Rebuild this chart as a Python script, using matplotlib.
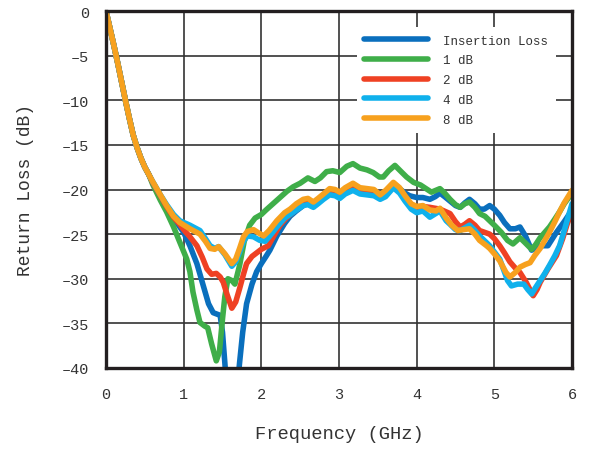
import matplotlib
matplotlib.use("Agg")
import matplotlib.pyplot as plt

plt.rcParams['font.family'] = ['Liberation Mono', 'DejaVu Sans']

# ---- data (GHz, dB) ----
f_start = [0, 0.05, 0.1, 0.15, 0.2, 0.25, 0.3, 0.35, 0.4, 0.45, 0.5, 0.55]
rl_start = [0, -1.9, -3.8, -5.8, -7.9, -10.0, -12.0, -13.9, -15.3, -16.5, -17.5, -18.3]

f_il = [0.6, 0.7, 0.78, 0.87, 0.95, 1.0, 1.08, 1.17, 1.27, 1.32, 1.38, 1.47, 1.5, 1.53, 1.56, 1.6,
        1.66, 1.72, 1.76, 1.81, 1.88, 1.94, 2.0, 2.06, 2.11, 2.2, 2.3, 2.37, 2.45, 2.54, 2.6, 2.67,
        2.73, 2.8, 2.88, 2.95, 3.01, 3.08, 3.18, 3.27, 3.36, 3.45, 3.53, 3.6, 3.7, 3.78, 3.85, 3.91,
        4.0, 4.08, 4.17, 4.24, 4.3, 4.36, 4.43, 4.5, 4.56, 4.62, 4.68, 4.75, 4.81, 4.87, 4.94, 5.0,
        5.07, 5.13, 5.2, 5.27, 5.33, 5.4, 5.48, 5.53, 5.59, 5.69, 5.8, 5.9, 6.0]
rl_il = [-19.2, -20.7, -21.9, -23.2, -24.2, -24.8, -26.3, -28.3, -31.3, -32.8, -33.8, -34.1, -36.0, -39.4, -43.0, -47.0,
         -45.0, -39.4, -36.0, -32.8, -30.6, -29.2, -28.3, -27.5, -26.8, -25.2, -23.8, -23.0, -22.4, -21.8, -21.5, -21.8,
         -21.4, -20.9, -20.4, -20.5, -20.8, -20.2, -19.8, -20.2, -20.3, -20.5, -21.0, -20.5, -19.3, -19.9, -20.4, -20.7,
         -20.9, -20.9, -21.1, -20.8, -20.4, -20.8, -21.3, -21.8, -22.0, -21.5, -21.1, -21.6, -22.2, -22.2, -21.8, -22.2,
         -22.9, -23.7, -24.4, -24.4, -24.2, -25.2, -26.8, -26.6, -26.3, -26.3, -24.8, -23.6, -22.3]

f_1db = [0.6, 0.7, 0.78, 0.87, 0.95, 1.04, 1.08, 1.12, 1.17, 1.21, 1.27, 1.31, 1.36, 1.42, 1.46, 1.5,
         1.53, 1.57, 1.62, 1.66, 1.72, 1.78, 1.85, 1.92, 2.0, 2.06, 2.15, 2.24, 2.33, 2.41, 2.5, 2.6,
         2.69, 2.76, 2.84, 2.92, 3.01, 3.1, 3.18, 3.27, 3.36, 3.44, 3.52, 3.57, 3.64, 3.72, 3.8, 3.87,
         3.96, 4.05, 4.12, 4.19, 4.3, 4.36, 4.43, 4.5, 4.56, 4.62, 4.68, 4.75, 4.81, 4.88, 4.94, 5.0,
         5.09, 5.17, 5.24, 5.33, 5.4, 5.48, 5.53, 5.59, 5.65, 5.71, 5.78, 5.84, 5.9, 6.0]
rl_1db = [-19.4, -21.2, -22.5, -24.2, -25.9, -27.8, -29.2, -31.5, -33.5, -34.9, -35.3, -35.5, -37.3, -39.2, -38.2, -34.5,
          -32.0, -30.0, -30.2, -30.6, -28.5, -25.8, -24.0, -23.2, -22.8, -22.3, -21.6, -20.9, -20.2, -19.7, -19.3, -18.7,
          -19.1, -18.7, -18.0, -17.9, -18.1, -17.4, -17.1, -17.6, -17.8, -18.1, -18.6, -18.6, -17.9, -17.3, -18.0, -18.6,
          -19.2, -19.5, -19.9, -20.3, -19.9, -20.4, -21.1, -21.7, -22.0, -21.6, -21.4, -22.0, -22.7, -23.0, -23.5, -24.0,
          -24.8, -25.7, -26.1, -25.4, -26.0, -26.7, -26.2, -25.4, -24.8, -24.2, -23.3, -22.5, -21.6, -20.4]

f_2db = [0.6, 0.7, 0.78, 0.87, 0.95, 1.0, 1.08, 1.17, 1.24, 1.3, 1.36, 1.42, 1.47, 1.51, 1.56, 1.62,
         1.67, 1.72, 1.77, 1.81, 1.88, 1.94, 2.0, 2.09, 2.16, 2.24, 2.32, 2.4, 2.5, 2.54, 2.6, 2.67,
         2.73, 2.8, 2.88, 2.95, 3.01, 3.08, 3.18, 3.27, 3.36, 3.45, 3.53, 3.6, 3.7, 3.78, 3.85, 3.93,
         4.0, 4.08, 4.17, 4.3, 4.43, 4.5, 4.56, 4.62, 4.68, 4.75, 4.81, 4.94, 5.0, 5.07, 5.13, 5.2,
         5.27, 5.33, 5.41, 5.5, 5.55, 5.59, 5.69, 5.8, 5.88, 5.94, 6.0]
rl_2db = [-19.2, -20.7, -21.9, -23.1, -23.9, -24.5, -25.3, -26.3, -27.6, -28.9, -29.5, -29.4, -29.8, -30.4, -31.8, -33.3,
          -32.6, -31.1, -29.5, -28.3, -27.5, -27.1, -26.7, -26.3, -25.2, -24.0, -23.2, -22.6, -21.9, -21.4, -21.2, -21.6,
          -21.2, -20.7, -20.2, -20.3, -20.6, -20.0, -19.6, -20.0, -20.1, -20.3, -20.9, -20.4, -19.4, -20.0, -20.9, -21.7,
          -22.0, -21.9, -22.0, -22.2, -22.7, -23.6, -24.2, -23.9, -23.5, -24.0, -24.6, -25.0, -25.5, -26.3, -27.1, -28.1,
          -28.8, -29.3, -30.4, -31.9, -31.2, -30.4, -28.9, -27.4, -25.5, -23.8, -22.5]

f_4db = [0.6, 0.7, 0.78, 0.87, 0.95, 1.08, 1.21, 1.28, 1.34, 1.4, 1.45, 1.53, 1.62, 1.67, 1.72, 1.77,
         1.82, 1.9, 1.98, 2.05, 2.1, 2.2, 2.3, 2.37, 2.45, 2.54, 2.6, 2.67, 2.73, 2.8, 2.88, 2.95,
         3.01, 3.08, 3.18, 3.27, 3.36, 3.45, 3.53, 3.6, 3.7, 3.78, 3.85, 3.93, 4.0, 4.08, 4.17, 4.3,
         4.38, 4.43, 4.5, 4.56, 4.68, 4.75, 4.81, 4.94, 5.0, 5.07, 5.12, 5.17, 5.22, 5.3, 5.38, 5.43,
         5.48, 5.53, 5.59, 5.65, 5.71, 5.78, 5.84, 5.9, 6.0]
rl_4db = [-19.1, -20.6, -21.7, -22.8, -23.5, -24.0, -24.6, -25.5, -26.3, -26.6, -26.4, -27.3, -28.6, -28.1, -27.0, -25.8,
          -25.2, -25.3, -25.7, -25.8, -25.3, -24.2, -23.2, -22.8, -22.3, -21.8, -21.7, -22.0, -21.6, -21.1, -20.6, -20.7,
          -21.0, -20.5, -20.1, -20.5, -20.6, -20.7, -21.1, -20.8, -19.8, -20.4, -21.3, -22.2, -22.6, -22.4, -23.1, -22.4,
          -23.5, -23.9, -24.5, -24.6, -24.0, -24.6, -25.2, -26.3, -27.0, -27.8, -29.0, -30.2, -30.8, -30.6, -30.6, -31.2,
          -31.7, -31.0, -30.2, -29.4, -28.5, -27.4, -26.3, -24.6, -21.6]

f_8db = [0.6, 0.7, 0.78, 0.87, 0.95, 1.08, 1.21, 1.28, 1.34, 1.4, 1.45, 1.53, 1.62, 1.67, 1.72, 1.77,
         1.82, 1.9, 1.97, 2.03, 2.1, 2.2, 2.3, 2.37, 2.45, 2.54, 2.6, 2.67, 2.73, 2.8, 2.88, 2.95,
         3.01, 3.08, 3.18, 3.27, 3.36, 3.45, 3.53, 3.6, 3.7, 3.78, 3.85, 3.93, 4.0, 4.08, 4.17, 4.25,
         4.3, 4.38, 4.45, 4.53, 4.6, 4.68, 4.75, 4.81, 4.9, 4.94, 5.0, 5.07, 5.15, 5.2, 5.27, 5.33,
         5.4, 5.46, 5.52, 5.59, 5.65, 5.71, 5.78, 5.84, 5.9, 6.0]
rl_8db = [-19.1, -20.6, -21.8, -23.0, -23.7, -24.4, -25.0, -25.8, -26.6, -26.7, -26.4, -27.2, -28.3, -27.8, -26.6, -25.3,
          -24.7, -24.5, -24.9, -25.2, -24.6, -23.5, -22.6, -22.2, -21.6, -21.1, -21.0, -21.4, -21.0, -20.5, -19.9, -20.0,
          -20.3, -19.8, -19.3, -19.8, -19.9, -20.0, -20.6, -20.1, -19.2, -19.8, -20.7, -21.6, -21.9, -21.8, -22.3, -22.4,
          -22.1, -23.2, -24.0, -24.6, -24.5, -24.4, -25.0, -25.7, -26.3, -26.6, -27.2, -28.0, -29.3, -29.8, -29.3, -28.7,
          -28.4, -28.2, -27.4, -26.6, -25.7, -24.8, -23.6, -22.5, -21.5, -20.1]

labels = ['Insertion Loss', '1 dB', '2 dB', '4 dB', '8 dB']
colors = ['#0a6fbd', '#3fae49', '#ef4123', '#10b1ec', '#f7a11e']
series_f = [f_il, f_1db, f_2db, f_4db, f_8db]
series_rl = [rl_il, rl_1db, rl_2db, rl_4db, rl_8db]

x_ticks = [0, 1, 2, 3, 4, 5, 6]
y_ticks = [0, -5, -10, -15, -20, -25, -30, -35, -40]

fig = plt.figure(figsize=(5.91, 4.52), dpi=100)
ax = fig.add_axes([106/591, 1-369/452, (572-106)/591, (369-12)/452])

for fx, rl, lab, col in zip(series_f, series_rl, labels, colors):
    ax.plot(f_start + fx, rl_start + rl, color=col, lw=4.0, label=lab,
            solid_joinstyle='round', solid_capstyle='round')

ax.set_xlim(0, 6)
ax.set_ylim(-40, 0)
ax.set_xticks(x_ticks)
ax.set_yticks(y_ticks)
ax.set_xticklabels([str(v) for v in x_ticks])
ax.set_yticklabels([str(v).replace('-', '\u2013') for v in y_ticks])
ax.grid(True, color='#333333', lw=1.2)
ax.set_axisbelow(True)
for s in ax.spines.values():
    s.set_linewidth(2.4)
    s.set_color('#231f20')
ax.tick_params(length=0, labelsize=11, colors='#333333')
ax.tick_params(axis='x', pad=14)
ax.tick_params(axis='y', pad=12)

ax.set_xlabel('Frequency (GHz)', fontsize=13.5, color='#333333', labelpad=17)
ax.set_ylabel('Return Loss (dB)', fontsize=13, color='#333333', labelpad=20)

leg = ax.legend(loc='upper right', bbox_to_anchor=(0.965, 0.955), fontsize=9,
                frameon=True, fancybox=False, framealpha=1, edgecolor='none',
                facecolor='white', handlelength=5.1, handletextpad=1.2,
                labelspacing=0.62, borderpad=0.6, borderaxespad=0)
for t in leg.get_texts():
    t.set_color('#333333')

fig.savefig('out.png', dpi=100)
